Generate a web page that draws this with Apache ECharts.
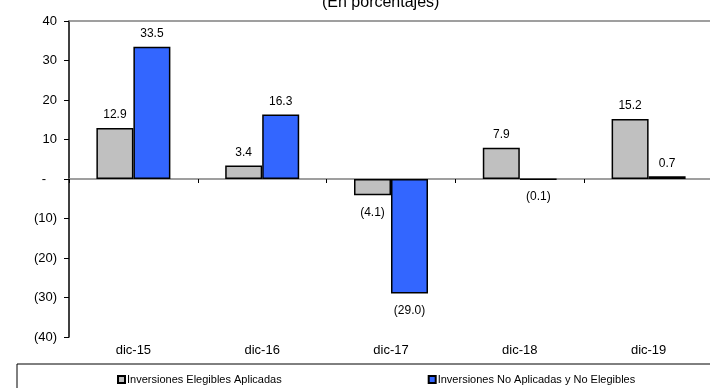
<!DOCTYPE html>
<html>
<head>
<meta charset="utf-8">
<script src="https://cdn.jsdelivr.net/npm/echarts@6/dist/echarts.min.js"></script>
<style>html,body{margin:0;padding:0;background:#fff}#c{width:710px;height:388px}</style>
</head>
<body>
<div id="c"></div>
<script>
var categories = ['dic-15', 'dic-16', 'dic-17', 'dic-18', 'dic-19'];
var elegiblesAplicadas = [12.9, 3.4, -4.1, 7.9, 15.2];
var noAplicadasNoElegibles = [33.5, 16.3, -29.0, -0.1, 0.7];
var seriesNames = ['Inversiones Elegibles Aplicadas', 'Inversiones No Aplicadas y No Elegibles'];
var titleText = '(En porcentajes)';

var FONT = '"Liberation Sans", Arial, sans-serif';

function fmt(v) {
  return v < 0 ? '(' + Math.abs(v).toFixed(1) + ')' : v.toFixed(1);
}
function buildData(vals) {
  return vals.map(function (v) {
    return {
      value: v,
      label: {
        position: v < 0 ? 'bottom' : 'top',
        distance: v < 0 ? 11 : 7
      }
    };
  });
}

var gridBox = {left: 69, right: -3, top: 21, bottom: 51, containLabel: false, outerBoundsMode: 'none'};

var chart = echarts.init(document.getElementById('c'), null, {renderer: 'canvas'});
chart.setOption({
  animation: false,
  backgroundColor: '#ffffff',
  title: {
    text: titleText,
    left: 317,
    top: -10,
    textStyle: {fontFamily: FONT, fontSize: 16, fontWeight: 'normal', color: '#000'}
  },
  graphic: [{
    type: 'rect',
    shape: {x: 17, y: 364, width: 720, height: 40},
    style: {fill: 'none', stroke: '#000', lineWidth: 1},
    silent: true
  }],
  legend: {
    left: 112,
    top: 369,
    itemWidth: 7,
    itemHeight: 7,
    itemGap: 146,
    icon: 'rect',
    textStyle: {fontFamily: FONT, fontSize: 11, color: '#000', padding: [0, 0, 0, -3]},
    data: seriesNames
  },
  grid: [Object.assign({}, gridBox), Object.assign({}, gridBox)],
  xAxis: [{
    type: 'category',
    gridIndex: 0,
    data: categories,
    position: 'bottom',
    axisLine: {show: false, onZero: false},
    axisTick: {show: false},
    axisLabel: {margin: 7, fontFamily: FONT, fontSize: 13, color: '#000'},
    splitLine: {show: false}
  }, {
    type: 'category',
    gridIndex: 0,
    data: categories,
    position: 'top',
    axisLine: {show: true, onZero: false, lineStyle: {color: '#808080', width: 1.5}},
    axisTick: {show: false},
    axisLabel: {show: false},
    splitLine: {show: false}
  }, {
    type: 'category',
    gridIndex: 1,
    data: categories,
    position: 'bottom',
    axisLine: {show: true, onZero: true, lineStyle: {color: '#808080', width: 1.5}},
    axisTick: {show: true, length: 4, lineStyle: {color: '#000'}},
    axisLabel: {show: false},
    splitLine: {show: false}
  }],
  yAxis: [{
    type: 'value',
    gridIndex: 0,
    min: -40,
    max: 40,
    interval: 10,
    axisLine: {show: true, lineStyle: {color: '#000', width: 1.5}},
    axisTick: {show: true, length: 5, lineStyle: {color: '#000'}},
    splitLine: {show: false},
    axisLabel: {
      margin: 12,
      fontFamily: FONT,
      fontSize: 13,
      color: '#000',
      formatter: function (v) {
        if (v === 0) return '-   ';
        return v < 0 ? '(' + Math.abs(v) + ')' : String(v);
      }
    }
  }, {
    type: 'value',
    gridIndex: 1,
    min: -40,
    max: 40,
    interval: 10,
    show: true,
    axisLine: {show: false},
    axisTick: {show: false},
    axisLabel: {show: false},
    splitLine: {show: false}
  }],
  series: [{
    name: seriesNames[0],
    type: 'bar',
    xAxisIndex: 0,
    yAxisIndex: 0,
    barWidth: 37,
    barGap: '0%',
    itemStyle: {color: '#c0c0c0', borderColor: '#000', borderWidth: 1.5},
    label: {
      show: true,
      fontFamily: FONT,
      fontSize: 12,
      color: '#000',
      formatter: function (p) { return fmt(p.value); }
    },
    data: buildData(elegiblesAplicadas)
  }, {
    name: seriesNames[1],
    type: 'bar',
    xAxisIndex: 0,
    yAxisIndex: 0,
    barWidth: 37,
    barGap: '0%',
    itemStyle: {color: '#3366ff', borderColor: '#000', borderWidth: 1.5},
    label: {
      show: true,
      fontFamily: FONT,
      fontSize: 12,
      color: '#000',
      formatter: function (p) { return fmt(p.value); }
    },
    data: buildData(noAplicadasNoElegibles)
  }]
});
</script>
</body>
</html>
